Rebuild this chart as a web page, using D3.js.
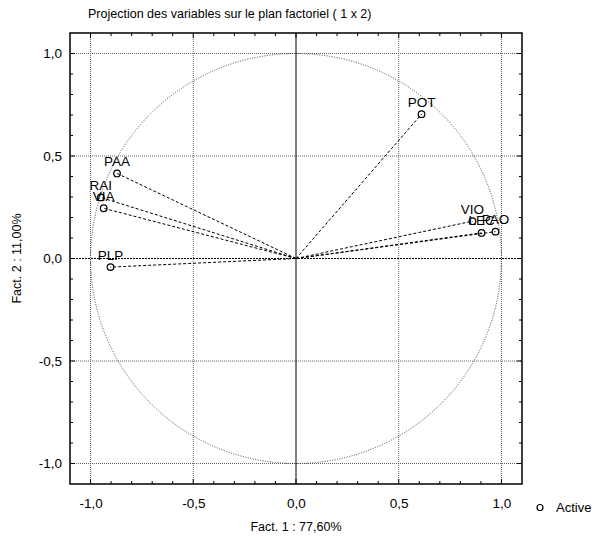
<!DOCTYPE html>
<html>
<head>
<meta charset="utf-8">
<script src="https://cdn.jsdelivr.net/npm/d3@7"></script>
<style>
  body { margin: 0; background: #fff; }
  svg { display: block; font-family: "Liberation Sans", Arial, sans-serif; }
</style>
</head>
<body>
<svg id="chart" width="600" height="539"></svg>
<script>
// Projection des variables (ACP) - plan factoriel 1 x 2
const names = ['PAO', 'PAA', 'VIO', 'VIA', 'POT', 'LEC', 'RAI', 'PLP'];
const fact1 = [0.971, -0.871, 0.859, -0.936, 0.611, 0.903, -0.950, -0.903];
const fact2 = [0.131, 0.415, 0.182, 0.245, 0.704, 0.125, 0.298, -0.042];
const majorTicks = [-1.0, -0.5, 0.0, 0.5, 1.0];
const minorTicks = d3.range(-10, 11).map(i => i / 10);

const svg = d3.select('#chart');
const m = { left: 70, right: 522, top: 33, bottom: 484 };

const x = d3.scaleLinear().domain([-1.1, 1.1]).range([m.left, m.right]);
const y = d3.scaleLinear().domain([-1.1, 1.1]).range([m.bottom, m.top]);
const fmt = d => d3.format('.1f')(d).replace('.', ',').replace('−', '-');

// Grid
const grid = svg.append('g');
majorTicks.filter(d => d !== 0).forEach(d => {
  grid.append('line')
    .attr('x1', x(d)).attr('x2', x(d)).attr('y1', m.top).attr('y2', m.bottom)
    .attr('stroke', '#666').attr('stroke-width', 1).attr('stroke-dasharray', '1,1');
  grid.append('line')
    .attr('y1', y(d)).attr('y2', y(d)).attr('x1', m.left).attr('x2', m.right)
    .attr('stroke', '#666').attr('stroke-width', 1).attr('stroke-dasharray', '1,1');
});
// zero axes
grid.append('line')
  .attr('x1', x(0)).attr('x2', x(0)).attr('y1', m.top).attr('y2', m.bottom)
  .attr('stroke', '#000').attr('stroke-width', 1);
grid.append('line')
  .attr('y1', y(0)).attr('y2', y(0)).attr('x1', m.left).attr('x2', m.right)
  .attr('stroke', '#000').attr('stroke-width', 1).attr('stroke-dasharray', '2,1');

// Unit circle
svg.append('ellipse')
  .attr('cx', x(0)).attr('cy', y(0))
  .attr('rx', x(1) - x(0)).attr('ry', y(0) - y(1))
  .attr('fill', 'none').attr('stroke', '#333').attr('stroke-width', 0.9)
  .attr('stroke-dasharray', '1,1.5');

// Frame
svg.append('rect')
  .attr('x', m.left).attr('y', m.top)
  .attr('width', m.right - m.left).attr('height', m.bottom - m.top)
  .attr('fill', 'none').attr('stroke', '#000').attr('stroke-width', 1.5);

// Axes (ticks inward, on all four sides)
const tickLen = d => (Math.abs(d * 2 - Math.round(d * 2)) < 1e-6 ? 5 : 3);
const axes = svg.append('g').attr('stroke', '#000').attr('stroke-width', 1);
minorTicks.forEach(d => {
  const L = tickLen(d);
  axes.append('line').attr('x1', x(d)).attr('x2', x(d)).attr('y1', m.bottom).attr('y2', m.bottom - L);
  axes.append('line').attr('x1', x(d)).attr('x2', x(d)).attr('y1', m.top).attr('y2', m.top + L);
  axes.append('line').attr('y1', y(d)).attr('y2', y(d)).attr('x1', m.left).attr('x2', m.left + L);
  axes.append('line').attr('y1', y(d)).attr('y2', y(d)).attr('x1', m.right).attr('x2', m.right - L);
});

const xAxis = d3.axisBottom(x).tickValues(majorTicks).tickSize(0).tickPadding(14).tickFormat(fmt);
svg.append('g').attr('transform', `translate(0,${m.bottom})`).call(xAxis)
  .call(g => g.select('.domain').remove())
  .selectAll('text').attr('font-size', 13.5).attr('fill', '#000')
  .attr('font-family', '"Liberation Sans", Arial, sans-serif');

const yAxis = d3.axisLeft(y).tickValues(majorTicks).tickSize(0).tickPadding(8).tickFormat(fmt);
svg.append('g').attr('transform', `translate(${m.left},0)`).call(yAxis)
  .call(g => g.select('.domain').remove())
  .selectAll('text').attr('font-size', 13.5).attr('fill', '#000')
  .attr('font-family', '"Liberation Sans", Arial, sans-serif');

// Vectors
const pts = names.map((n, i) => ({ name: n, f1: fact1[i], f2: fact2[i] }));
svg.append('g').selectAll('line').data(pts).enter().append('line')
  .attr('x1', x(0)).attr('y1', y(0))
  .attr('x2', d => x(d.f1)).attr('y2', d => y(d.f2))
  .attr('stroke', '#000').attr('stroke-width', 1).attr('stroke-dasharray', '3,2');

svg.append('g').selectAll('circle').data(pts).enter().append('circle')
  .attr('cx', d => x(d.f1)).attr('cy', d => y(d.f2)).attr('r', 3.3)
  .attr('fill', 'none').attr('stroke', '#000').attr('stroke-width', 1.2);

svg.append('g').selectAll('text').data(pts).enter().append('text')
  .attr('x', d => x(d.f1)).attr('y', d => y(d.f2) - 7.5)
  .attr('text-anchor', 'middle').attr('font-size', 13.5).attr('fill', '#000')
  .text(d => d.name);

// Title and axis titles
svg.append('text').attr('x', 88).attr('y', 18).attr('font-size', 12.5)
  .text('Projection des variables sur le plan factoriel ( 1 x  2)');
svg.append('text').attr('x', x(0)).attr('y', 531).attr('text-anchor', 'middle')
  .attr('font-size', 12.5).text('Fact. 1  : 77,60%');
svg.append('text').attr('transform', `translate(21,${y(0)}) rotate(-90)`)
  .attr('text-anchor', 'middle').attr('font-size', 12.5).text('Fact. 2  : 11,00%');

// Legend
svg.append('circle').attr('cx', 540).attr('cy', 507.5).attr('r', 3)
  .attr('fill', 'none').attr('stroke', '#000').attr('stroke-width', 1.2);
svg.append('text').attr('x', 556).attr('y', 512).attr('font-size', 13).text('Active');
</script>
</body>
</html>
